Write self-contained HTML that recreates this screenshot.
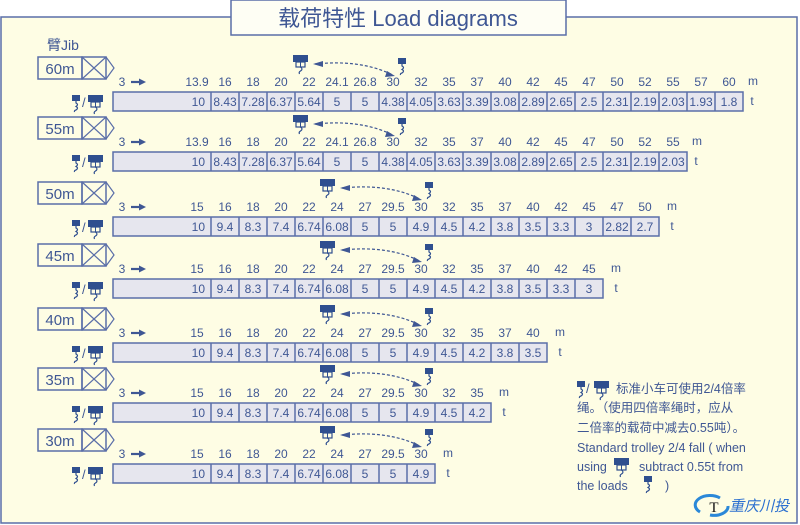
<!DOCTYPE html>
<html><head><meta charset="utf-8"><style>
html,body{margin:0;padding:0;background:#fff;}
svg{display:block;}
text{font-family:"Liberation Sans","Noto Sans CJK SC",sans-serif;fill:#3f5794;}
.n{font-size:12px;text-anchor:middle;}
.v{font-size:12px;text-anchor:middle;}
</style></head><body>
<svg width="800" height="525" viewBox="0 0 800 525" xmlns="http://www.w3.org/2000/svg">
<defs>
<g id="tr"><rect x="0" y="0" width="15" height="7" fill="#2f4f8f"/><rect x="3" y="7" width="9" height="5" fill="none" stroke="#2f4f8f" stroke-width="1.2"/><line x1="7.5" y1="7" x2="7.5" y2="12" stroke="#2f4f8f"/><path d="M7.5 12 q3 2 0 4 q-2 1 -1 3" fill="none" stroke="#2f4f8f" stroke-width="1.2"/></g>
<g id="hk"><rect x="0" y="0" width="8" height="6" fill="#2f4f8f"/><path d="M4 6 v2 q3 1.5 0 3.5 q3 1.5 0 3.5 q-2 0.5 -1.5 2" fill="none" stroke="#2f4f8f" stroke-width="1.2"/></g>
<g id="jb"><rect x="38" y="-35" width="44" height="22" fill="none" stroke="#5a6ea8" stroke-width="1.5"/><rect x="82" y="-35" width="24" height="22" fill="none" stroke="#5a6ea8" stroke-width="1.5"/><path d="M82 -35 L106 -13 M106 -35 L82 -13 M106 -35 L114 -24 L106 -13" fill="none" stroke="#5a6ea8" stroke-width="1.2"/>
<line x1="131" y1="-10" x2="141" y2="-10" stroke="#3f5794" stroke-width="2.2"/><path d="M139 -13.5 L146 -10 L139 -6.5 Z" fill="#3f5794"/>
<use href="#hk" x="72" y="3"/><text x="82" y="15" style="font-size:13px">/</text><use href="#tr" x="88" y="3"/></g>
<g id="ar"><path d="M0 6 C30 3 55 6 78 17" fill="none" stroke="#3f5794" stroke-width="1.2" stroke-dasharray="3,2"/><path d="M-2 6 L8 3 L8 9 Z" fill="#3f5794"/><path d="M80 18 L70 19 L72 13 Z" fill="#3f5794"/></g>
</defs>
<rect x="0" y="0" width="800" height="525" fill="#fff"/>
<rect x="1" y="17" width="796" height="506" fill="#fefde4" stroke="#5a6ea8" stroke-width="1.5"/>
<rect x="231" y="0" width="335" height="35" fill="#fefef4" stroke="#5a6ea8" stroke-width="1.5"/>
<text x="398" y="26" style="font-size:22px;text-anchor:middle">载荷特性 Load diagrams</text>
<text x="47" y="50" style="font-size:14px">臂Jib</text>

<!-- 60m -->
<g transform="translate(0,92)">
<use href="#jb"/><text x="60" y="-18" style="font-size:15px;text-anchor:middle">60m</text>
<use href="#tr" x="293" y="-37"/><use href="#hk" x="398" y="-34"/><use href="#ar" x="315" y="-34"/>
<text x="122" y="-6" class="n">3</text>
<rect x="113" y="0" width="630" height="19" fill="#e6e6ee" stroke="#5a6ea8" stroke-width="1.5"/>
<path d="M211 0v19M239 0v19M267 0v19M295 0v19M323 0v19M351 0v19M379 0v19M407 0v19M435 0v19M463 0v19M491 0v19M519 0v19M547 0v19M575 0v19M603 0v19M631 0v19M659 0v19M687 0v19M715 0v19" stroke="#5a6ea8" stroke-width="1.5"/>
<text x="197" y="-6" class="n">13.9</text><text x="225" y="-6" class="n">16</text><text x="253" y="-6" class="n">18</text><text x="281" y="-6" class="n">20</text><text x="309" y="-6" class="n">22</text><text x="337" y="-6" class="n">24.1</text><text x="365" y="-6" class="n">26.8</text><text x="393" y="-6" class="n">30</text><text x="421" y="-6" class="n">32</text><text x="449" y="-6" class="n">35</text><text x="477" y="-6" class="n">37</text><text x="505" y="-6" class="n">40</text><text x="533" y="-6" class="n">42</text><text x="561" y="-6" class="n">45</text><text x="589" y="-6" class="n">47</text><text x="617" y="-6" class="n">50</text><text x="645" y="-6" class="n">52</text><text x="673" y="-6" class="n">55</text><text x="701" y="-6" class="n">57</text><text x="729" y="-6" class="n">60</text><text x="753" y="-7" class="n">m</text>
<text x="205" y="14" class="v" style="text-anchor:end">10</text><text x="225" y="14" class="v">8.43</text><text x="253" y="14" class="v">7.28</text><text x="281" y="14" class="v">6.37</text><text x="309" y="14" class="v">5.64</text><text x="337" y="14" class="v">5</text><text x="365" y="14" class="v">5</text><text x="393" y="14" class="v">4.38</text><text x="421" y="14" class="v">4.05</text><text x="449" y="14" class="v">3.63</text><text x="477" y="14" class="v">3.39</text><text x="505" y="14" class="v">3.08</text><text x="533" y="14" class="v">2.89</text><text x="561" y="14" class="v">2.65</text><text x="589" y="14" class="v">2.5</text><text x="617" y="14" class="v">2.31</text><text x="645" y="14" class="v">2.19</text><text x="673" y="14" class="v">2.03</text><text x="701" y="14" class="v">1.93</text><text x="729" y="14" class="v">1.8</text><text x="752" y="13" class="v">t</text>
</g>

<!-- 55m -->
<g transform="translate(0,152)">
<use href="#jb"/><text x="60" y="-18" style="font-size:15px;text-anchor:middle">55m</text>
<use href="#tr" x="293" y="-37"/><use href="#hk" x="398" y="-34"/><use href="#ar" x="315" y="-34"/>
<text x="122" y="-6" class="n">3</text>
<rect x="113" y="0" width="574" height="19" fill="#e6e6ee" stroke="#5a6ea8" stroke-width="1.5"/>
<path d="M211 0v19M239 0v19M267 0v19M295 0v19M323 0v19M351 0v19M379 0v19M407 0v19M435 0v19M463 0v19M491 0v19M519 0v19M547 0v19M575 0v19M603 0v19M631 0v19M659 0v19" stroke="#5a6ea8" stroke-width="1.5"/>
<text x="197" y="-6" class="n">13.9</text><text x="225" y="-6" class="n">16</text><text x="253" y="-6" class="n">18</text><text x="281" y="-6" class="n">20</text><text x="309" y="-6" class="n">22</text><text x="337" y="-6" class="n">24.1</text><text x="365" y="-6" class="n">26.8</text><text x="393" y="-6" class="n">30</text><text x="421" y="-6" class="n">32</text><text x="449" y="-6" class="n">35</text><text x="477" y="-6" class="n">37</text><text x="505" y="-6" class="n">40</text><text x="533" y="-6" class="n">42</text><text x="561" y="-6" class="n">45</text><text x="589" y="-6" class="n">47</text><text x="617" y="-6" class="n">50</text><text x="645" y="-6" class="n">52</text><text x="673" y="-6" class="n">55</text><text x="697" y="-7" class="n">m</text>
<text x="205" y="14" class="v" style="text-anchor:end">10</text><text x="225" y="14" class="v">8.43</text><text x="253" y="14" class="v">7.28</text><text x="281" y="14" class="v">6.37</text><text x="309" y="14" class="v">5.64</text><text x="337" y="14" class="v">5</text><text x="365" y="14" class="v">5</text><text x="393" y="14" class="v">4.38</text><text x="421" y="14" class="v">4.05</text><text x="449" y="14" class="v">3.63</text><text x="477" y="14" class="v">3.39</text><text x="505" y="14" class="v">3.08</text><text x="533" y="14" class="v">2.89</text><text x="561" y="14" class="v">2.65</text><text x="589" y="14" class="v">2.5</text><text x="617" y="14" class="v">2.31</text><text x="645" y="14" class="v">2.19</text><text x="673" y="14" class="v">2.03</text><text x="696" y="13" class="v">t</text>
</g>

<!-- 50m -->
<g transform="translate(0,217)">
<use href="#jb"/><text x="60" y="-18" style="font-size:15px;text-anchor:middle">50m</text>
<use href="#tr" x="320" y="-38"/><use href="#hk" x="425" y="-35"/><use href="#ar" x="342" y="-35"/>
<text x="122" y="-6" class="n">3</text>
<rect x="113" y="0" width="546" height="19" fill="#e6e6ee" stroke="#5a6ea8" stroke-width="1.5"/>
<path d="M211 0v19M239 0v19M267 0v19M295 0v19M323 0v19M351 0v19M379 0v19M407 0v19M435 0v19M463 0v19M491 0v19M519 0v19M547 0v19M575 0v19M603 0v19M631 0v19" stroke="#5a6ea8" stroke-width="1.5"/>
<text x="197" y="-6" class="n">15</text><text x="225" y="-6" class="n">16</text><text x="253" y="-6" class="n">18</text><text x="281" y="-6" class="n">20</text><text x="309" y="-6" class="n">22</text><text x="337" y="-6" class="n">24</text><text x="365" y="-6" class="n">27</text><text x="393" y="-6" class="n">29.5</text><text x="421" y="-6" class="n">30</text><text x="449" y="-6" class="n">32</text><text x="477" y="-6" class="n">35</text><text x="505" y="-6" class="n">37</text><text x="533" y="-6" class="n">40</text><text x="561" y="-6" class="n">42</text><text x="589" y="-6" class="n">45</text><text x="617" y="-6" class="n">47</text><text x="645" y="-6" class="n">50</text><text x="672" y="-7" class="n">m</text>
<text x="205" y="14" class="v" style="text-anchor:end">10</text><text x="225" y="14" class="v">9.4</text><text x="253" y="14" class="v">8.3</text><text x="281" y="14" class="v">7.4</text><text x="309" y="14" class="v">6.74</text><text x="337" y="14" class="v">6.08</text><text x="365" y="14" class="v">5</text><text x="393" y="14" class="v">5</text><text x="421" y="14" class="v">4.9</text><text x="449" y="14" class="v">4.5</text><text x="477" y="14" class="v">4.2</text><text x="505" y="14" class="v">3.8</text><text x="533" y="14" class="v">3.5</text><text x="561" y="14" class="v">3.3</text><text x="589" y="14" class="v">3</text><text x="617" y="14" class="v">2.82</text><text x="645" y="14" class="v">2.7</text><text x="672" y="13" class="v">t</text>
</g>

<!-- 45m -->
<g transform="translate(0,279)">
<use href="#jb"/><text x="60" y="-18" style="font-size:15px;text-anchor:middle">45m</text>
<use href="#tr" x="320" y="-38"/><use href="#hk" x="425" y="-35"/><use href="#ar" x="342" y="-35"/>
<text x="122" y="-6" class="n">3</text>
<rect x="113" y="0" width="490" height="19" fill="#e6e6ee" stroke="#5a6ea8" stroke-width="1.5"/>
<path d="M211 0v19M239 0v19M267 0v19M295 0v19M323 0v19M351 0v19M379 0v19M407 0v19M435 0v19M463 0v19M491 0v19M519 0v19M547 0v19M575 0v19" stroke="#5a6ea8" stroke-width="1.5"/>
<text x="197" y="-6" class="n">15</text><text x="225" y="-6" class="n">16</text><text x="253" y="-6" class="n">18</text><text x="281" y="-6" class="n">20</text><text x="309" y="-6" class="n">22</text><text x="337" y="-6" class="n">24</text><text x="365" y="-6" class="n">27</text><text x="393" y="-6" class="n">29.5</text><text x="421" y="-6" class="n">30</text><text x="449" y="-6" class="n">32</text><text x="477" y="-6" class="n">35</text><text x="505" y="-6" class="n">37</text><text x="533" y="-6" class="n">40</text><text x="561" y="-6" class="n">42</text><text x="589" y="-6" class="n">45</text><text x="616" y="-7" class="n">m</text>
<text x="205" y="14" class="v" style="text-anchor:end">10</text><text x="225" y="14" class="v">9.4</text><text x="253" y="14" class="v">8.3</text><text x="281" y="14" class="v">7.4</text><text x="309" y="14" class="v">6.74</text><text x="337" y="14" class="v">6.08</text><text x="365" y="14" class="v">5</text><text x="393" y="14" class="v">5</text><text x="421" y="14" class="v">4.9</text><text x="449" y="14" class="v">4.5</text><text x="477" y="14" class="v">4.2</text><text x="505" y="14" class="v">3.8</text><text x="533" y="14" class="v">3.5</text><text x="561" y="14" class="v">3.3</text><text x="589" y="14" class="v">3</text><text x="616" y="13" class="v">t</text>
</g>

<!-- 40m -->
<g transform="translate(0,343)">
<use href="#jb"/><text x="60" y="-18" style="font-size:15px;text-anchor:middle">40m</text>
<use href="#tr" x="320" y="-38"/><use href="#hk" x="425" y="-35"/><use href="#ar" x="342" y="-35"/>
<text x="122" y="-6" class="n">3</text>
<rect x="113" y="0" width="434" height="19" fill="#e6e6ee" stroke="#5a6ea8" stroke-width="1.5"/>
<path d="M211 0v19M239 0v19M267 0v19M295 0v19M323 0v19M351 0v19M379 0v19M407 0v19M435 0v19M463 0v19M491 0v19M519 0v19" stroke="#5a6ea8" stroke-width="1.5"/>
<text x="197" y="-6" class="n">15</text><text x="225" y="-6" class="n">16</text><text x="253" y="-6" class="n">18</text><text x="281" y="-6" class="n">20</text><text x="309" y="-6" class="n">22</text><text x="337" y="-6" class="n">24</text><text x="365" y="-6" class="n">27</text><text x="393" y="-6" class="n">29.5</text><text x="421" y="-6" class="n">30</text><text x="449" y="-6" class="n">32</text><text x="477" y="-6" class="n">35</text><text x="505" y="-6" class="n">37</text><text x="533" y="-6" class="n">40</text><text x="560" y="-7" class="n">m</text>
<text x="205" y="14" class="v" style="text-anchor:end">10</text><text x="225" y="14" class="v">9.4</text><text x="253" y="14" class="v">8.3</text><text x="281" y="14" class="v">7.4</text><text x="309" y="14" class="v">6.74</text><text x="337" y="14" class="v">6.08</text><text x="365" y="14" class="v">5</text><text x="393" y="14" class="v">5</text><text x="421" y="14" class="v">4.9</text><text x="449" y="14" class="v">4.5</text><text x="477" y="14" class="v">4.2</text><text x="505" y="14" class="v">3.8</text><text x="533" y="14" class="v">3.5</text><text x="560" y="13" class="v">t</text>
</g>

<!-- 35m -->
<g transform="translate(0,403)">
<use href="#jb"/><text x="60" y="-18" style="font-size:15px;text-anchor:middle">35m</text>
<use href="#tr" x="320" y="-38"/><use href="#hk" x="425" y="-35"/><use href="#ar" x="342" y="-35"/>
<text x="122" y="-6" class="n">3</text>
<rect x="113" y="0" width="378" height="19" fill="#e6e6ee" stroke="#5a6ea8" stroke-width="1.5"/>
<path d="M211 0v19M239 0v19M267 0v19M295 0v19M323 0v19M351 0v19M379 0v19M407 0v19M435 0v19M463 0v19" stroke="#5a6ea8" stroke-width="1.5"/>
<text x="197" y="-6" class="n">15</text><text x="225" y="-6" class="n">16</text><text x="253" y="-6" class="n">18</text><text x="281" y="-6" class="n">20</text><text x="309" y="-6" class="n">22</text><text x="337" y="-6" class="n">24</text><text x="365" y="-6" class="n">27</text><text x="393" y="-6" class="n">29.5</text><text x="421" y="-6" class="n">30</text><text x="449" y="-6" class="n">32</text><text x="477" y="-6" class="n">35</text><text x="504" y="-7" class="n">m</text>
<text x="205" y="14" class="v" style="text-anchor:end">10</text><text x="225" y="14" class="v">9.4</text><text x="253" y="14" class="v">8.3</text><text x="281" y="14" class="v">7.4</text><text x="309" y="14" class="v">6.74</text><text x="337" y="14" class="v">6.08</text><text x="365" y="14" class="v">5</text><text x="393" y="14" class="v">5</text><text x="421" y="14" class="v">4.9</text><text x="449" y="14" class="v">4.5</text><text x="477" y="14" class="v">4.2</text><text x="504" y="13" class="v">t</text>
</g>

<!-- 30m -->
<g transform="translate(0,464)">
<use href="#jb"/><text x="60" y="-18" style="font-size:15px;text-anchor:middle">30m</text>
<use href="#tr" x="320" y="-38"/><use href="#hk" x="425" y="-35"/><use href="#ar" x="342" y="-35"/>
<text x="122" y="-6" class="n">3</text>
<rect x="113" y="0" width="322" height="19" fill="#e6e6ee" stroke="#5a6ea8" stroke-width="1.5"/>
<path d="M211 0v19M239 0v19M267 0v19M295 0v19M323 0v19M351 0v19M379 0v19M407 0v19" stroke="#5a6ea8" stroke-width="1.5"/>
<text x="197" y="-6" class="n">15</text><text x="225" y="-6" class="n">16</text><text x="253" y="-6" class="n">18</text><text x="281" y="-6" class="n">20</text><text x="309" y="-6" class="n">22</text><text x="337" y="-6" class="n">24</text><text x="365" y="-6" class="n">27</text><text x="393" y="-6" class="n">29.5</text><text x="421" y="-6" class="n">30</text><text x="448" y="-7" class="n">m</text>
<text x="205" y="14" class="v" style="text-anchor:end">10</text><text x="225" y="14" class="v">9.4</text><text x="253" y="14" class="v">8.3</text><text x="281" y="14" class="v">7.4</text><text x="309" y="14" class="v">6.74</text><text x="337" y="14" class="v">6.08</text><text x="365" y="14" class="v">5</text><text x="393" y="14" class="v">5</text><text x="421" y="14" class="v">4.9</text><text x="448" y="13" class="v">t</text>
</g>

<!-- note -->
<use href="#hk" x="577" y="381"/><text x="586" y="393" style="font-size:13px">/</text><use href="#tr" x="594" y="381"/>
<text x="616" y="393" style="font-size:12.5px">标准小车可使用2/4倍率</text>
<text x="577" y="412" style="font-size:12.5px">绳。（使用四倍率绳时，应从</text>
<text x="577" y="432" style="font-size:12.5px">二倍率的载荷中减去0.55吨）。</text>
<text x="577" y="452" style="font-size:12.5px">Standard trolley 2/4 fall ( when</text>
<text x="577" y="471" style="font-size:12.5px">using</text><use href="#tr" x="614" y="458"/><text x="639" y="471" style="font-size:12.5px">subtract 0.55t  from</text>
<text x="577" y="490" style="font-size:12.5px">the loads</text><use href="#hk" x="644" y="476"/><text x="665" y="490" style="font-size:12.5px">)</text>
<path d="M700 512 a14 9 0 0 1 20 -14" fill="none" stroke="#2b88d8" stroke-width="3"/>
<path d="M710 515 a14 9 0 0 0 18 -9" fill="none" stroke="#2b88d8" stroke-width="3"/>
<text x="714" y="512" style="font-size:15px;fill:#111;font-family:'Liberation Serif',serif;text-anchor:middle">T</text>
<text x="729" y="511" style="font-size:15px;fill:#2b6fd0;font-style:italic">重庆川投</text>
</svg>
</body></html>
